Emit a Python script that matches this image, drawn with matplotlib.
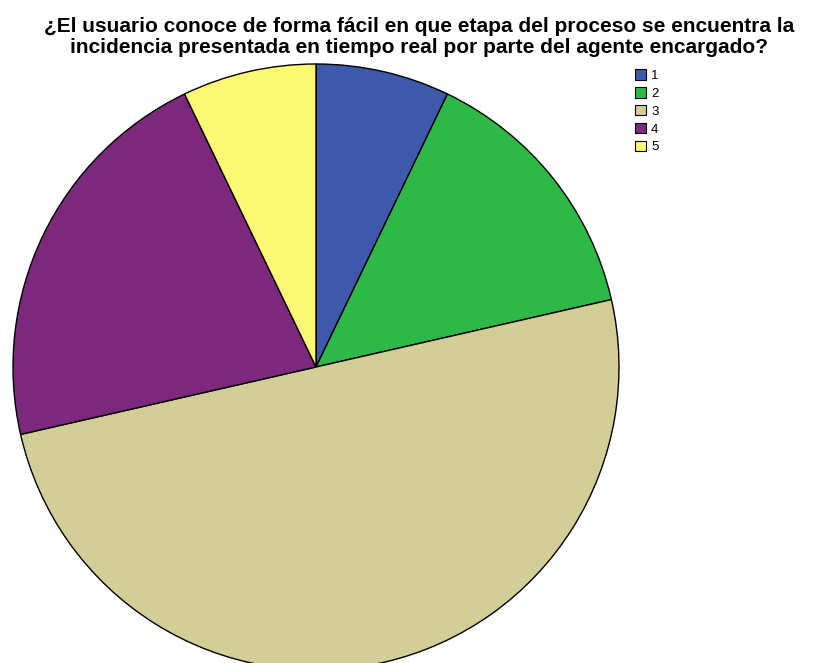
import matplotlib
matplotlib.use("Agg")
import matplotlib.pyplot as plt
from matplotlib.patches import Patch

categories = ["1", "2", "3", "4", "5"]
counts = [1, 2, 7, 3, 1]
colors = ["#3E58AC", "#2EB848", "#D3CE97", "#7C287D", "#FBF873"]
title_lines = [
    "¿El usuario conoce de forma fácil en que etapa del proceso se encuentra la",
    "incidencia presentada en tiempo real por parte del agente encargado?",
]

W, H = 813, 663
fig = plt.figure(figsize=(W / 100, H / 100), dpi=100)
fig.patch.set_facecolor("white")

cx, cy, r = 316, 367, 303
ax = fig.add_axes([(cx - r) / W, (H - cy - r) / H, 2 * r / W, 2 * r / H])
ax.pie(counts, colors=colors, startangle=90, counterclock=False, radius=1,
       wedgeprops=dict(edgecolor="black", linewidth=1.0))
ax.set_xlim(-1, 1)
ax.set_ylim(-1, 1)
ax.set_aspect("auto")
ax.axis("off")
for p in ax.patches:
    p.set_clip_on(False)

# Two-line bold title, each line placed on its own baseline
for line, base in zip(title_lines, [32, 53]):
    fig.text(419 / W, 1 - base / H, line, ha="center", va="baseline",
             fontsize=15, fontweight="bold", family="Liberation Sans")

handles = [Patch(facecolor=c, edgecolor="black", linewidth=0.8) for c in colors]
fig.legend(handles, categories, loc="upper left",
           bbox_to_anchor=(626 / W, 1 - 60 / H), frameon=False,
           prop=dict(family="Liberation Sans", size=9.5),
           handlelength=0.85, handleheight=0.85, handletextpad=0.35,
           labelspacing=0.38, borderpad=0.2)

fig.savefig("out.png", dpi=100)
